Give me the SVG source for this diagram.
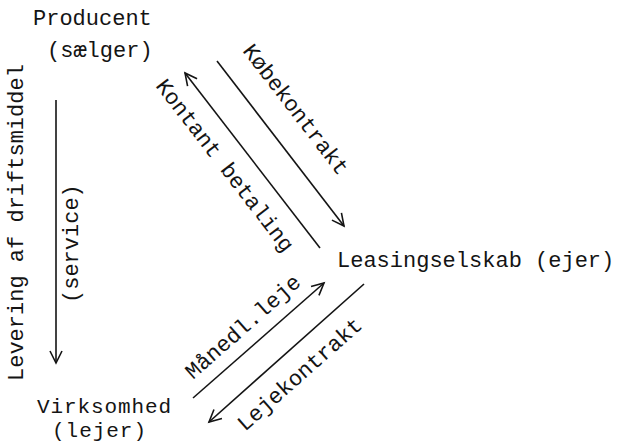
<svg xmlns="http://www.w3.org/2000/svg" width="618" height="443" viewBox="0 0 618 443">
<defs>
<style>
text{font-family:"Courier New","Liberation Mono",monospace;font-size:22px;fill:#141414}
.tight{font-size:21px}
.edge{stroke:#141414;stroke-width:1.6;fill:none;marker-end:url(#ah)}
</style>
<marker id="ah" markerUnits="userSpaceOnUse" markerWidth="30" markerHeight="30" viewBox="-15 -15 30 30" refX="0" refY="0" orient="auto" overflow="visible">
<path d="M-12,-6 L0,0 L-12,6" fill="none" stroke="#141414" stroke-width="1.6"/>
</marker>
</defs>
<rect width="618" height="443" fill="#fff"/>
<g id="producent"><text x="33" y="25">Producent</text><text x="47" y="57">(sælger)</text></g>
<g id="leasingselskab"><text x="337" y="267">Leasingselskab (ejer)</text></g>
<g id="virksomhed"><text class="tight" x="37" y="413" textLength="134" lengthAdjust="spacing">Virksomhed</text><text class="tight" x="52" y="436.5" textLength="94" lengthAdjust="spacing">(lejer)</text></g>
<g id="connectors">
<g id="levering"><path class="edge" d="M56,100 L56,363"/>
<text transform="translate(23,381) rotate(-90)">Levering af driftsmiddel</text>
<text transform="translate(78,303) rotate(-90)">(service)</text></g>
<g id="koebekontrakt"><path class="edge" d="M217,61 L344,226"/>
<text transform="translate(242,51) rotate(52.4)">Købekontrakt</text></g>
<g id="kontant"><path class="edge" d="M320,248 L185,73"/>
<text transform="translate(155,86) rotate(52.4)">Kontant betaling</text></g>
<g id="maanedl"><path class="edge" d="M193,398 L324,283"/>
<text transform="translate(193,380) rotate(-41.3)">Månedl.leje</text></g>
<g id="lejekontrakt"><path class="edge" d="M364,284 L209,422"/>
<text transform="translate(245,432) rotate(-41.5)">Lejekontrakt</text></g>
</g>
</svg>
